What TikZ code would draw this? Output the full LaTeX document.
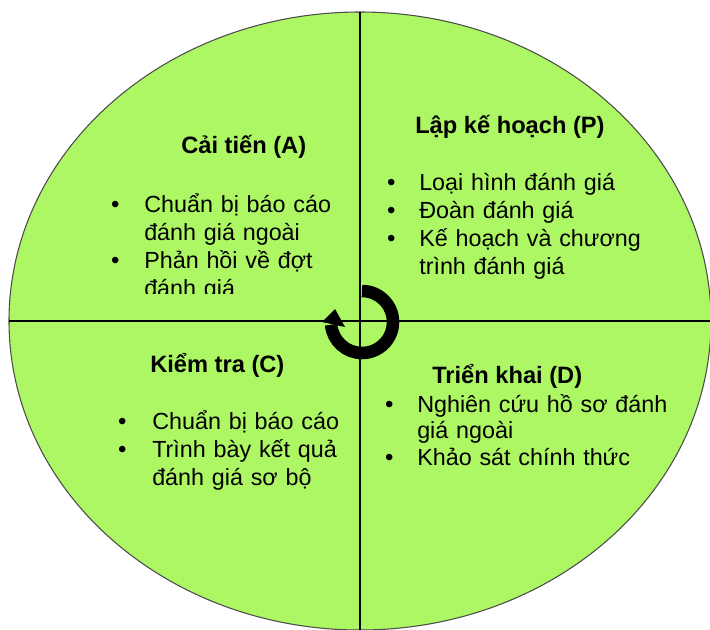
\documentclass[tikz,border=0pt]{standalone}
\usepackage{fontspec}
\setmainfont{Liberation Sans}
\usetikzlibrary{positioning,shapes.geometric}
\definecolor{leaf}{RGB}{173,247,100}
\tikzset{
  entry/.style={font=\fontsize{17.5}{21}\selectfont, text width=220pt, align=left,
    inner sep=0pt, text height=13pt, text depth=4pt},
  bullet/.style={font=\fontsize{18}{21}\selectfont, inner sep=0pt, text height=13pt, text depth=4pt},
  heading/.style={font=\fontsize{17.75}{21}\selectfont\bfseries, inner sep=0pt, anchor=base west},
}
\begin{document}
\begin{tikzpicture}[x=0.75pt,y=-0.75pt]
\useasboundingbox (0,0) rectangle (710,629);
\node[ellipse,draw=black!70,line width=0.8pt,fill=leaf,minimum width=526.5pt,minimum height=463.5pt,inner sep=0pt,outer sep=0pt] (disc) at (360,321) {};
\draw[line width=1pt] (disc.north) -- (disc.south);
\draw[line width=1pt] (disc.west) -- (disc.east);

% cycle arrow
\draw[line width=9.4pt] (362,291) arc[start angle=90,end angle=-175,radius=23.25pt];
\fill (335,309) -- (322,322) -- (345,327) -- cycle;

% A
\begin{scope}
\clip (100,100) rectangle (358,293);
\node[heading] (ta) at (181,153) {Cải tiến (A)};
\node[entry,anchor=base west] (a1) at (144,212) {Chuẩn bị báo cáo};
\node[entry] (a2) [below of=a1,node distance=21pt] {đánh giá ngoài};
\node[entry] (a3) [below of=a2,node distance=21pt] {Phản hồi về đợt};
\node[entry] (a4) [below of=a3,node distance=21pt] {đánh giá};
\node[bullet] (ba1) [left of=a1,node distance=131.75pt] {•};
\node[bullet] (ba3) [left of=a3,node distance=131.75pt] {•};
\end{scope}

% P
\node[heading] (tp) at (415,133) {Lập kế hoạch (P)};
\node[entry,anchor=base west] (p1) at (419,190) {Loại hình đánh giá};
\node[entry] (p2) [below of=p1,node distance=21pt] {Đoàn đánh giá};
\node[entry] (p3) [below of=p2,node distance=21pt] {Kế hoạch và chương};
\node[entry] (p4) [below of=p3,node distance=21pt] {trình đánh giá};
\node[bullet] (bp1) [left of=p1,node distance=131pt] {•};
\node[bullet] (bp2) [left of=p2,node distance=131pt] {•};
\node[bullet] (bp3) [left of=p3,node distance=131pt] {•};

% C
\node[heading] (tc) at (150,372) {Kiểm tra (C)};
\node[entry,anchor=base west] (c1) at (152,429) {Chuẩn bị báo cáo};
\node[entry] (c2) [below of=c1,node distance=21pt] {Trình bày kết quả};
\node[entry] (c3) [below of=c2,node distance=21pt] {đánh giá sơ bộ};
\node[bullet] (bc1) [left of=c1,node distance=132.5pt] {•};
\node[bullet] (bc2) [left of=c2,node distance=132.5pt] {•};

% D
\node[heading] (td) at (432,383) {Triển khai (D)};
\node[entry,anchor=base west] (d1) at (417,412) {Nghiên cứu hồ sơ đánh};
\node[entry] (d2) [below of=d1,node distance=20pt] {giá ngoài};
\node[entry] (d3) [below of=d2,node distance=20pt] {Khảo sát chính thức};
\node[bullet] (bd1) [left of=d1,node distance=131pt] {•};
\node[bullet] (bd3) [left of=d3,node distance=131pt] {•};
\end{tikzpicture}
\end{document}
